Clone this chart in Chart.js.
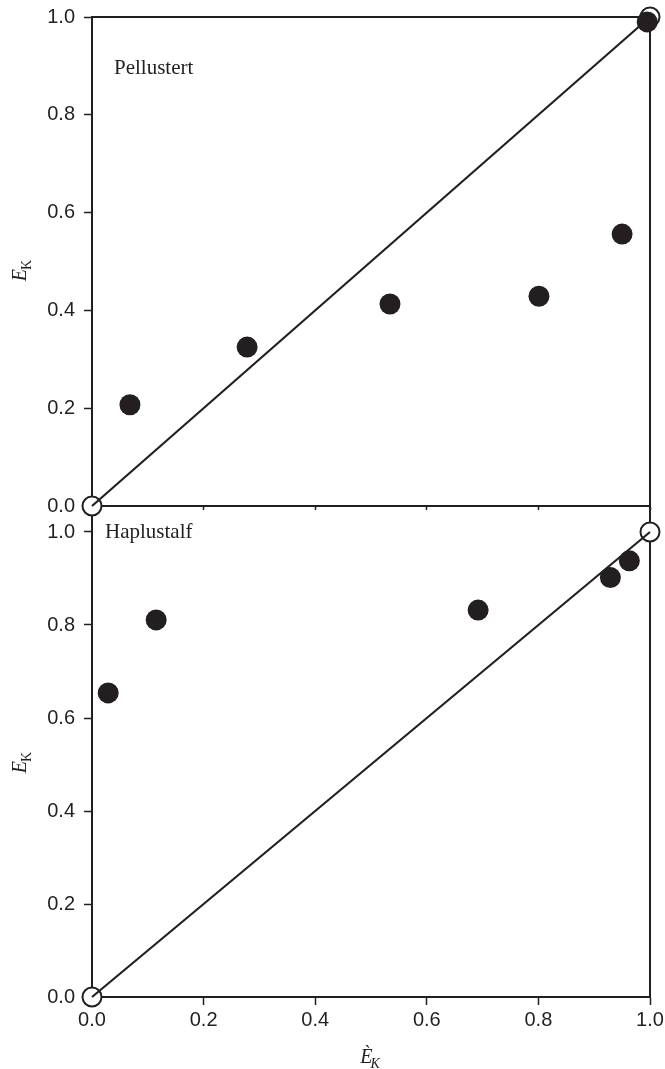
<!DOCTYPE html>
<html><head><meta charset="utf-8">
<script src="https://cdn.jsdelivr.net/npm/chart.js@4/dist/chart.umd.min.js"></script>
<style>
html,body{margin:0;padding:0;background:#fff;}
#wrap{position:relative;width:665px;height:1069px;overflow:hidden;}
.box{position:absolute;left:0;width:665px;}
</style></head><body>
<div id="wrap">
  <div class="box" style="top:506px;height:563px"><canvas id="c2" width="665" height="563"></canvas></div>
  <div class="box" style="top:0;height:530px"><canvas id="c1" width="665" height="530"></canvas></div>
</div>
<script>
// ---- data ----
const xTicks = [0, 0.2, 0.4, 0.6, 0.8, 1.0];
const yTicks = [0, 0.2, 0.4, 0.6, 0.8, 1.0];
const refX = [0, 1];
const refY = [0, 1];
const pellX = [0.068, 0.278, 0.534, 0.801, 0.950, 0.995];
const pellY = [0.207, 0.325, 0.413, 0.429, 0.556, 0.990];
const hapX = [0.029, 0.115, 0.692, 0.929, 0.963];
const hapY = [0.654, 0.811, 0.832, 0.902, 0.938];
const panelTop = 'Pellustert';
const panelBottom = 'Haplustalf';

const INK = '#231f20';
const TICKFONT = {family: "'Liberation Sans', Arial, sans-serif", size: 20};
const SERIF = "'Liberation Serif', 'Times New Roman', serif";
const pts = (xs, ys) => xs.map((x, i) => ({x: x, y: ys[i]}));

const framePlugin = {
  id: 'frame',
  beforeDatasetsDraw(chart, args, opts) {
    const a = chart.chartArea, c = chart.ctx;
    c.save();
    c.strokeStyle = INK; c.lineWidth = 2;
    c.beginPath();
    if (opts.top) { c.moveTo(a.left, a.top); c.lineTo(a.right + 1, a.top); }
    c.moveTo(a.right, a.top); c.lineTo(a.right, a.bottom + 1);
    c.stroke();
    c.restore();
  },
  afterDraw(chart, args, opts) {
    const c = chart.ctx, a = chart.chartArea;
    c.save();
    c.fillStyle = INK;
    c.font = "21px " + SERIF;
    c.textBaseline = 'alphabetic'; c.textAlign = 'left';
    c.fillText(opts.label, opts.labelX, opts.labelY);
    // y axis title E_K
    c.save();
    c.translate(opts.yTitleX, opts.yTitleY);
    c.rotate(-Math.PI / 2);
    c.font = "italic 20px " + SERIF;
    const wE = c.measureText('E').width;
    c.font = "14px " + SERIF;
    const wK = c.measureText('K').width;
    const x0 = -(wE + wK) / 2;
    c.font = "italic 20px " + SERIF;
    c.fillText('E', x0, 0);
    c.font = "14px " + SERIF;
    c.fillText('K', x0 + wE - 1, 5);
    c.restore();
    // x axis title È_K
    if (opts.xTitle) {
      c.font = "italic 20px " + SERIF;
      const w1 = c.measureText('\u00C8').width;
      c.font = "italic 14px " + SERIF;
      const w2 = c.measureText('K').width;
      const cx = (a.left + a.right) / 2;
      const bx = cx - (w1 + w2) / 2;
      c.font = "italic 20px " + SERIF;
      c.fillText('\u00C8', bx, opts.xTitleY);
      c.font = "italic 14px " + SERIF;
      c.fillText('K', bx + w1 - 2, opts.xTitleY + 5);
    }
    c.restore();
  }
};

function makeChart(id, xs, ys, cfg) {
  return new Chart(document.getElementById(id), {
    type: 'scatter',
    data: {
      datasets: [
        {
          label: 'data', data: pts(xs, ys), order: 0, clip: false,
          pointRadius: 10.5, pointHoverRadius: 10.5, pointBackgroundColor: INK,
          pointBorderColor: INK, pointBorderWidth: 0, showLine: false
        },
        {
          label: '1:1', type: 'line', data: pts(refX, refY), order: 1, clip: false,
          borderColor: INK, borderWidth: 2.2, pointRadius: 0, fill: false
        },
        {
          label: 'ends', data: pts(refX, refY), order: 2, clip: false,
          pointRadius: 9.5, pointHoverRadius: 9.5, pointBackgroundColor: '#ffffff',
          pointBorderColor: INK, pointBorderWidth: 2, showLine: false
        }
      ]
    },
    options: {
      responsive: false, animation: false, events: [],
      layout: {autoPadding: false, padding: {left: 0, right: 15, top: cfg.padTop, bottom: 0}},
      plugins: {
        legend: {display: false}, tooltip: {enabled: false},
        frame: cfg.frame
      },
      scales: {
        x: {
          type: 'linear', min: 0, max: 1,
          afterBuildTicks: s => { s.ticks = xTicks.map(v => ({value: v})); },
          afterFit: s => { s.height = cfg.xHeight; s.paddingLeft = 0; s.paddingRight = 0; },
          ticks: {display: cfg.xLabels, font: TICKFONT, color: INK, padding: 3,
                  maxRotation: 0, callback: v => Number(v).toFixed(1)},
          grid: {drawOnChartArea: false, drawTicks: true, tickLength: cfg.xTickLen,
                 tickWidth: 1.5, tickColor: INK, color: INK},
          border: {display: true, color: INK, width: 2}
        },
        y: {
          type: 'linear', min: 0, max: cfg.yMax,
          afterBuildTicks: s => { s.ticks = yTicks.map(v => ({value: v})); },
          afterFit: s => { s.width = 92; s.paddingTop = 0; s.paddingBottom = 0; },
          ticks: {font: TICKFONT, color: INK, padding: 9, callback: v => Number(v).toFixed(1)},
          grid: {drawOnChartArea: false, drawTicks: true, tickLength: 8,
                 tickWidth: 1.5, tickColor: INK, color: INK},
          border: {display: true, color: INK, width: 2}
        }
      }
    },
    plugins: [framePlugin]
  });
}

makeChart('c1', pellX, pellY, {
  padTop: 17, xHeight: 24, xLabels: false, xTickLen: 4, yMax: 1,
  frame: {top: true, label: panelTop, labelX: 114, labelY: 74,
          yTitleX: 26, yTitleY: 270, xTitle: false}
});
makeChart('c2', hapX, hapY, {
  padTop: 0, xHeight: 72, xLabels: true, xTickLen: 8, yMax: 491 / 465,
  frame: {top: false, label: panelBottom, labelX: 105, labelY: 32,
          yTitleX: 26, yTitleY: 256, xTitle: true, xTitleY: 557}
});
</script>
</body></html>
